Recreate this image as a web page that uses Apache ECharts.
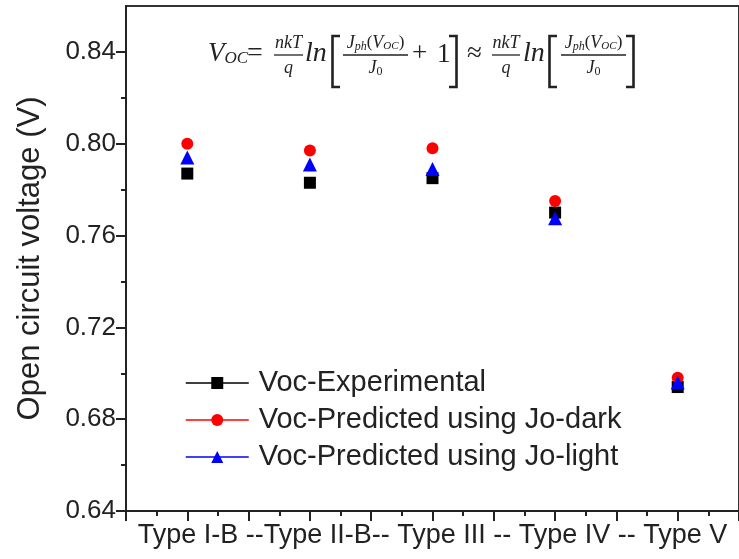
<!DOCTYPE html>
<html>
<head>
<meta charset="utf-8">
<script src="https://cdn.jsdelivr.net/npm/echarts@6/dist/echarts.min.js"></script>
<style>
	html, body { margin: 0; padding: 0; background: #fff; }
	#chart { width: 739px; height: 559px; }
</style>
</head>
<body>
<div id="chart"></div>
<script>
var categories = ['Type I-B', 'Type II-B', 'Type III', 'Type IV', 'Type V'];
var xPos = [1, 2, 3, 4, 5];
var vocExp = [0.787, 0.783, 0.785, 0.770, 0.694];
var vocDark = [0.800, 0.797, 0.798, 0.775, 0.698];
var vocLight = [0.794, 0.791, 0.789, 0.7675, 0.696];
var yMajor = [0.64, 0.68, 0.72, 0.76, 0.80, 0.84];
var yMinor = [0.66, 0.70, 0.74, 0.78, 0.82];
var xTitle = 'Type I-B --Type II-B-- Type III -- Type IV -- Type V';
var seriesNames = ['Voc-Experimental', 'Voc-Predicted using Jo-dark', 'Voc-Predicted using Jo-light'];

var FONT = '"Liberation Sans", Arial, sans-serif';
var MATH = '"Liberation Serif", "DejaVu Serif", serif';
var INK = '#222';

function pairs(ys) {
	var out = [];
	for (var i = 0; i < ys.length; i++) {
		out.push([xPos[i], ys[i]]);
	}
	return out;
}

// --- formula drawn as graphic pieces ---
var ctx = document.createElement('canvas').getContext('2d');
function tw(t, size, italic) {
	ctx.font = (italic ? 'italic ' : '') + size + 'px ' + MATH;
	return ctx.measureText(t).width;
}
function txt(x, y, t, size, italic) {
	return {
		type: 'text', x: x, y: y, silent: true,
		style: {
			text: t, fontSize: size, fontFamily: MATH,
			fontStyle: italic ? 'italic' : 'normal',
			fill: INK, align: 'left', verticalAlign: 'middle'
		}
	};
}
// pieces: [text, size, dy, italic]
function run(pieces, x, y, els) {
	var cx = x;
	for (var i = 0; i < pieces.length; i++) {
		var p = pieces[i];
		els.push(txt(cx, y + p[2], p[0], p[1], p[3]));
		cx += tw(p[0], p[1], p[3]);
	}
	return cx - x;
}
function runWidth(pieces) {
	var s = 0;
	for (var i = 0; i < pieces.length; i++) s += tw(pieces[i][0], pieces[i][1], pieces[i][3]);
	return s;
}
function frac(num, den, x0, x1, els) {
	var c = (x0 + x1) / 2;
	run(num, c - runWidth(num) / 2, 43, els);
	run(den, c - runWidth(den) / 2, 68, els);
	els.push({ type: 'line', silent: true, shape: { x1: x0, y1: 55, x2: x1, y2: 55 }, style: { stroke: INK, lineWidth: 1.3 } });
}
function bracket(x0, x1, open, els) {
	var xv = open ? x0 + 1.5 : x1 - 1.5;
	var xe = open ? x1 : x0;
	els.push({
		type: 'polyline', silent: true,
		shape: { points: [[xe, 36], [xv, 36], [xv, 87], [xe, 87]] },
		style: { stroke: INK, lineWidth: 2.6, fill: null }
	});
}

var formula = [];
var nkT = [['nkT', 18, 0, true]];
var q = [['q', 18, 0, true]];
var jph = [['J', 18, 0, true], ['ph', 12, 4, true], ['(', 17, 0, false], ['V', 18, 0, true], ['OC', 11, 3, true], [')', 17, 0, false]];
var j0 = [['J', 18, 0, true], ['0', 12, 4, false]];

run([['V', 27, 0, true], ['OC', 17, 5, true]], 208, 54, formula);
formula.push(txt(247, 54, '=', 28, false));
frac(nkT, q, 274, 303, formula);
run([['ln', 28, 0, true]], 305, 54, formula);
bracket(331, 340, true, formula);
frac(jph, j0, 343, 408, formula);
formula.push(txt(412, 54, '+', 27, false));
formula.push(txt(437, 55, '1', 27, false));
bracket(449, 458, false, formula);
formula.push(txt(467, 54, '\u2248', 27, false));
frac(nkT, q, 492, 520, formula);
run([['ln', 28, 0, true]], 523, 54, formula);
bracket(548, 557, true, formula);
frac(jph, j0, 561, 626, formula);
bracket(626, 635, false, formula);

var chart = echarts.init(document.getElementById('chart'));

var symbols = ['rect', 'circle', 'triangle'];
var sizes = [12, 12, 14];
var colors = ['#000000', '#ff0000', '#0000ff'];
var values = [vocExp, vocDark, vocLight];
var series = [];
for (var i = 0; i < 3; i++) {
	series.push({
		type: 'line',
		name: seriesNames[i],
		data: pairs(values[i]),
		symbol: symbols[i],
		symbolSize: sizes[i],
		showSymbol: true,
		itemStyle: { color: colors[i] },
		lineStyle: { color: colors[i], opacity: 0 },
		z: 3 + i
	});
}

var option = {
	animation: false,
	backgroundColor: '#fff',
	grid: {
		left: 126, top: 6, width: 624, height: 505,
		show: true, borderColor: '#333', borderWidth: 2, backgroundColor: 'transparent'
	},
	legend: {
		orient: 'vertical',
		left: 185, top: 368, padding: 0,
		itemWidth: 63, itemHeight: 15, itemGap: 7,
		data: seriesNames,
		lineStyle: { opacity: 1, width: 1.5 },
		textStyle: { fontSize: 29, color: INK, fontFamily: FONT, padding: [0, 0, 0, 5], lineHeight: 30 }
	},
	xAxis: {
		type: 'value', min: 0.5, max: 5.5, interval: 0.5,
		name: xTitle, nameLocation: 'middle', nameGap: 11,
		nameTextStyle: { fontSize: 27, color: INK, fontFamily: FONT, verticalAlign: 'top' },
		axisLine: { lineStyle: { color: INK, width: 2 } },
		axisTick: { show: true, length: 10, lineStyle: { color: INK, width: 2 } },
		minorTick: { show: true, splitNumber: 2, length: 5, lineStyle: { color: INK, width: 2 } },
		axisLabel: { show: false },
		splitLine: { show: false }
	},
	yAxis: [{
		type: 'value', min: 0.64, max: 0.86, position: 'left',
		name: 'Open circuit voltage (V)', nameLocation: 'middle', nameGap: 80,
		nameTextStyle: { fontSize: 31, color: INK, fontFamily: FONT },
		axisLine: { show: true, lineStyle: { color: INK, width: 2 } },
		axisTick: { show: true, length: 10, customValues: yMajor, lineStyle: { color: INK, width: 2 } },
		axisLabel: {
			customValues: yMajor, margin: 10, fontSize: 26, color: INK, fontFamily: FONT,
			formatter: function(v) { return v.toFixed(2); }
		},
		splitLine: { show: false }
	}, {
		type: 'value', min: 0.64, max: 0.86, position: 'left',
		axisLine: { show: false },
		axisTick: { show: true, length: 5, customValues: yMinor, lineStyle: { color: INK, width: 2 } },
		axisLabel: { show: false },
		splitLine: { show: false }
	}],
	graphic: formula,
	series: series
};

chart.setOption(option);
</script>
</body>
</html>
